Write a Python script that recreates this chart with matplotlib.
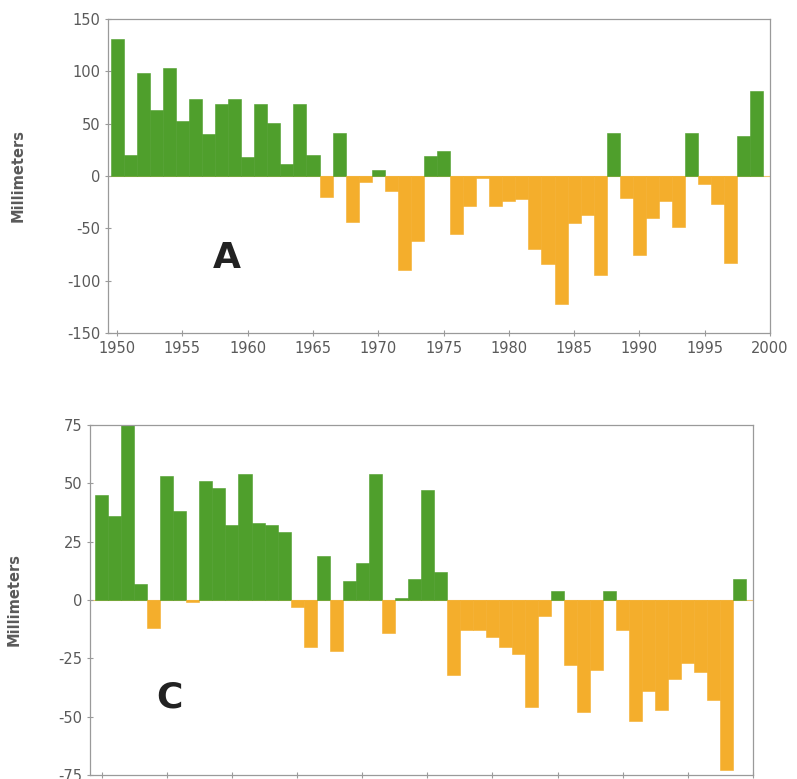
import matplotlib
matplotlib.use("Agg")
import matplotlib.pyplot as plt

# -------------------------
# Data
# -------------------------
YEARS = list(range(1950, 2000))

A_VALUES = [131, 20, 98, 63, 103, 53, 74, 40, 69, 74,
            18, 69, 51, 11, 69, 20, -20, 41, -44, -6,
            6, -14, -90, -62, 19, 24, -55, -29, -2, -29,
            -24, -22, -70, -84, -122, -45, -37, -95, 41, -21,
            -75, -40, -24, -49, 41, -8, -27, -83, 38, 81]

C_VALUES = [45, 36, 75, 7, -12, 53, 38, -1, 51, 48,
            32, 54, 33, 32, 29, -3, -20, 19, -22, 8,
            16, 54, -14, 1, 9, 47, 12, -32, -13, -13,
            -16, -20, -23, -46, -7, 4, -28, -48, -30, 4,
            -13, -52, -39, -47, -34, -27, -31, -43, -73, 9]

X_TICKS = [1950, 1955, 1960, 1965, 1970, 1975, 1980, 1985, 1990, 1995, 2000]
A_YTICKS = [-150, -100, -50, 0, 50, 100, 150]
C_YTICKS = [-75, -50, -25, 0, 25, 50, 75]

GREEN = "#4f9f2c"
ORANGE = "#f4ae2c"
TEXT = "#5a5a5a"
FRAME = "#9a9a9a"


def style_axes(ax):
    for s in ax.spines.values():
        s.set_color(FRAME)
        s.set_linewidth(0.9)
    ax.tick_params(direction="inout", length=4, width=0.8, color=FRAME,
                   labelcolor=TEXT, labelsize=10.5)
    ax.axhline(0, color="#f0c870", lw=0.8, zorder=1)


def draw_panel(ax, values, yticks, xlim, letter, letter_pos):
    colors = [GREEN if v >= 0 else ORANGE for v in values]
    ax.bar(YEARS, values, width=1.0, color=colors, edgecolor=colors,
           linewidth=0.4, zorder=2)
    ax.set_xlim(*xlim)
    ax.set_ylim(yticks[0], yticks[-1])
    ax.set_yticks(yticks)
    ax.set_yticklabels([str(t) for t in yticks])
    ax.set_xticks(X_TICKS)
    ax.set_ylabel("Millimeters", fontsize=10.5, color=TEXT,
                  fontweight="bold")
    ax.text(letter_pos[0], letter_pos[1], letter, transform=ax.transAxes,
            fontsize=26, fontweight="bold", color="#222222",
            ha="center", va="center")
    style_axes(ax)


fig = plt.figure(figsize=(7.97, 7.79), dpi=100)

# panel A
ax_a = fig.add_axes([108 / 797, 1 - 333 / 779, 662 / 797, 314 / 779])
draw_panel(ax_a, A_VALUES, A_YTICKS, (1949.3, 2000), "A", (0.18, 0.24))
ax_a.set_xticklabels([str(t) for t in X_TICKS])
ax_a.yaxis.set_label_coords(-0.125, 0.5)

# panel C (scan is cut off at the bottom, year labels not visible)
ax_c = fig.add_axes([90 / 797, 1 - 775 / 779, 663 / 797, 350 / 779])
draw_panel(ax_c, C_VALUES, C_YTICKS, (1949.1, 1999.9), "C", (0.12, 0.22))
ax_c.set_xticklabels([])
ax_c.yaxis.set_label_coords(-0.103, 0.5)

fig.savefig("out.png", dpi=100, facecolor="white")
